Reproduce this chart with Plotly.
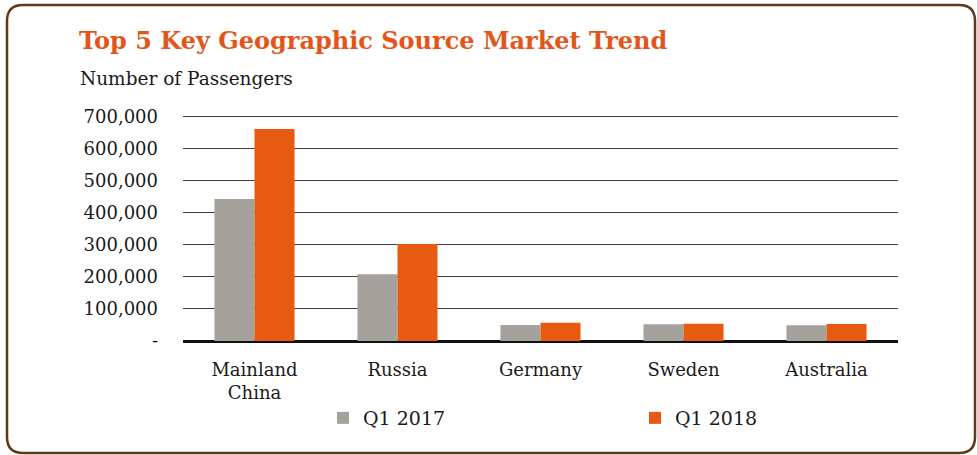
import plotly.graph_objects as go

categories = ["Mainland<br>China", "Russia", "Germany", "Sweden", "Australia"]
q1_2017 = [442000, 208000, 50000, 52000, 49000]
q1_2018 = [660000, 302000, 57000, 54000, 53000]
tick_vals = [0, 100000, 200000, 300000, 400000, 500000, 600000, 700000]
tick_text = ["-", "100,000", "200,000", "300,000", "400,000", "500,000", "600,000", "700,000"]

W, H = 977, 455
L, R, T, B = 183, 79, 113, 114
PW, PH = W - L - R, H - T - B

def px(x):
    return (x - L) / PW

def py(y):
    return (H - B - y) / PH

FONT = "DejaVu Serif"

fig = go.Figure()
fig.add_trace(go.Bar(x=categories, y=q1_2017, name="Q1 2017", marker_color="#A5A29D",
                     marker_line_width=0))
fig.add_trace(go.Bar(x=categories, y=q1_2018, name="Q1 2018", marker_color="#E65A12",
                     marker_line_width=0))

# rounded border
x0, x1, y0, y1, r = 7, 975, 5, 453, 16
path = (f"M{px(x0+r)},{py(y0)} L{px(x1-r)},{py(y0)} Q{px(x1)},{py(y0)} {px(x1)},{py(y0+r)} "
        f"L{px(x1)},{py(y1-r)} Q{px(x1)},{py(y1)} {px(x1-r)},{py(y1)} "
        f"L{px(x0+r)},{py(y1)} Q{px(x0)},{py(y1)} {px(x0)},{py(y1-r)} "
        f"L{px(x0)},{py(y0+r)} Q{px(x0)},{py(y0)} {px(x0+r)},{py(y0)} Z")

fig.update_layout(
    width=W, height=H,
    margin=dict(l=L, r=R, t=T, b=B),
    paper_bgcolor="white", plot_bgcolor="white",
    barmode="group", bargap=0.44, bargroupgap=0,
    font=dict(family=FONT, color="#1a1a1a", size=18),
    shapes=[dict(type="path", xref="paper", yref="paper", path=path,
                 line=dict(color="#5E3A1A", width=2.5), layer="below")],
    annotations=[
        dict(text="<b>Top 5 Key Geographic Source Market Trend</b>", xref="paper", yref="paper",
             x=px(77), y=py(40), xanchor="left", yanchor="middle", showarrow=False,
             font=dict(family=FONT, size=24, color="#E2561B")),
        dict(text="Number of Passengers", xref="paper", yref="paper",
             x=px(78), y=py(78), xanchor="left", yanchor="middle", showarrow=False,
             font=dict(family=FONT, size=18.5, color="#1a1a1a")),
    ],
    legend=dict(orientation="h", x=px(323), y=py(418), xanchor="left", yanchor="middle",
                entrywidth=267, entrywidthmode="pixels", font=dict(size=19),
                itemclick=False),
    xaxis=dict(showgrid=False, showline=False, ticks="", tickfont=dict(size=18),
               ticklabelstandoff=16),
    yaxis=dict(range=[0, 710000], tickvals=tick_vals, ticktext=tick_text,
               showgrid=True, gridcolor="#3f3f3f", gridwidth=1.2,
               zeroline=True, zerolinecolor="#111111", zerolinewidth=2.5,
               ticks="", ticklabelstandoff=24, tickfont=dict(size=18)),
)

fig.write_html("out.html", config={"displayModeBar": False},
               post_script="document.body.style.margin='0';")
